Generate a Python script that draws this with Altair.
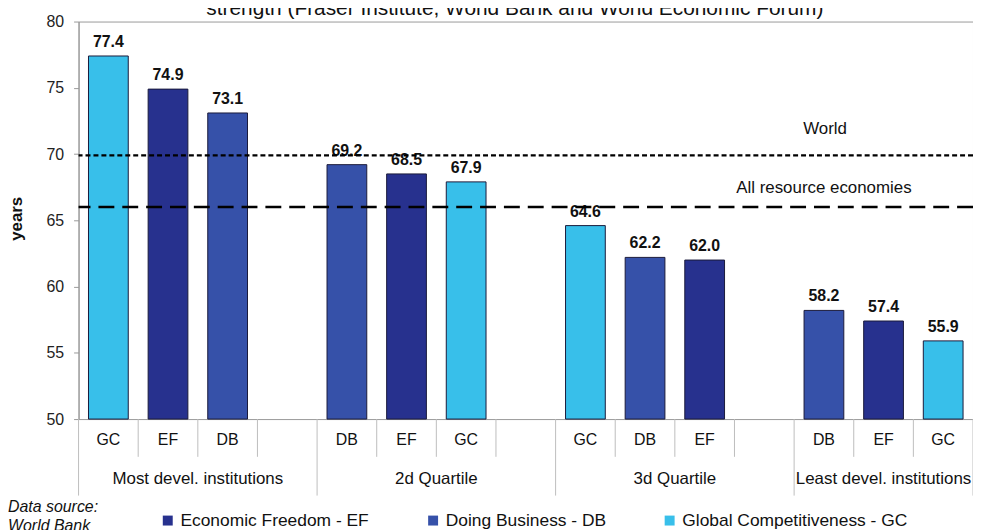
import altair as alt
import pandas as pd

# ---------------- data ----------------
title_text = "strength (Fraser Institute, World Bank and World Economic Forum)"
groups = ["Most devel. institutions", "2d Quartile", "3d Quartile", "Least devel. institutions"]
slots_per_group = [4, 4, 4, 3]
group_codes = [["GC", "EF", "DB"], ["DB", "EF", "GC"], ["GC", "DB", "EF"], ["DB", "EF", "GC"]]
group_values = [[77.4, 74.9, 73.1], [69.2, 68.5, 67.9], [64.6, 62.2, 62.0], [58.2, 57.4, 55.9]]
series_order = ["EF", "DB", "GC"]
series_names = ["Economic Freedom - EF", "Doing Business - DB", "Global Competitiveness - GC"]
series_colors = ["#27318E", "#3651A9", "#38BFEA"]
ref_names = ["World", "All resource economies"]
ref_values = [69.9, 66.0]
ref_label_slot = [12.52, 12.5]
y_ticks = [50, 55, 60, 65, 70, 75, 80]
source_text = "Data source:\nWorld Bank"

# ---------------- tables ----------------
name_of = dict(zip(series_order, series_names))
bar_rows, group_rows, sep_rows = [], [], []
slot = 0
for g, n, cs, vs in zip(groups, slots_per_group, group_codes, group_values):
    group_rows.append({"group": g, "xc": slot + n / 2})
    sep_rows.append({"x": slot, "kind": "long"})
    for i, (c, v) in enumerate(zip(cs, vs)):
        s = slot + i
        bar_rows.append({"code": c, "series": name_of[c], "value": v,
                         "base": y_ticks[0],
                         "x0": s + 1 / 6, "x1": s + 5 / 6, "xc": s + 0.5,
                         "label": f"{v:.1f}"})
    for i in range(1, n):
        sep_rows.append({"x": slot + i, "kind": "short"})
    slot += n
sep_rows.append({"x": slot, "kind": "long"})
total_slots = slot

bars_df = pd.DataFrame(bar_rows)
groups_df = pd.DataFrame(group_rows)
short_df = pd.DataFrame([r for r in sep_rows if r["kind"] == "short"])
long_df = pd.DataFrame([r for r in sep_rows if r["kind"] == "long"])
world_df = pd.DataFrame({"name": [ref_names[0]], "value": [ref_values[0]], "lx": [ref_label_slot[0]]})
res_df = pd.DataFrame({"name": [ref_names[1]], "value": [ref_values[1]], "lx": [ref_label_slot[1]]})

FONT = "Liberation Sans"
xscale = alt.Scale(domain=[0, total_slots], nice=False, zero=False)
yscale = alt.Scale(domain=[y_ticks[0], y_ticks[-1]], nice=False, zero=False)
yaxis = alt.Axis(values=y_ticks, labelFontSize=16, labelColor="#222",
                 tickSize=5, tickColor="#999", domainColor="#999",
                 labelPadding=10, grid=False, title="years",
                 titleFontSize=17, titleFontWeight="bold",
                 titleColor="#111", titleAngle=270, titleX=-62,
                 titleY=198, titleAlign="center", titleBaseline="middle")


def X(field):
    return alt.X(field, type="quantitative", scale=xscale, axis=None)


def Y(field):
    return alt.Y(field, type="quantitative", scale=yscale, axis=yaxis)


base = alt.Chart(bars_df)

bars = base.mark_bar(stroke="#1a1a3a", strokeWidth=1).encode(
    x=X("x0"),
    x2="x1:Q",
    y=Y("value"),
    y2="base:Q",
    color=alt.Color("series:N",
                    scale=alt.Scale(domain=series_names, range=series_colors),
                    legend=alt.Legend(orient="none", legendX=81, legendY=493,
                                      direction="horizontal", title=None,
                                      symbolType="square", symbolSize=100,
                                      symbolStrokeWidth=0, labelFontSize=17.5,
                                      labelColor="#111", columnPadding=55,
                                      labelOffset=4, labelLimit=0)),
)

value_labels = base.mark_text(fontSize=16, fontWeight="bold", color="#111",
                              baseline="alphabetic", dy=-9).encode(
    x=X("xc"), y=Y("value"), text="label:N")

world_rule = alt.Chart(world_df).mark_rule(
    color="black", strokeWidth=2.5, strokeDash=[5, 3]).encode(y=Y("value"))
res_rule = alt.Chart(res_df).mark_rule(
    color="black", strokeWidth=2.5, strokeDash=[16, 8]).encode(y=Y("value"))

world_lbl = alt.Chart(world_df).mark_text(
    fontSize=17, color="#111", baseline="middle", dy=-27).encode(
    x=X("lx"), y=Y("value"), text="name:N")
res_lbl = alt.Chart(res_df).mark_text(
    fontSize=17, color="#111", baseline="middle", dy=-19).encode(
    x=X("lx"), y=Y("value"), text="name:N")

short_seps = alt.Chart(short_df).mark_rule(color="#bdbdbd", strokeWidth=1).encode(
    x=X("x"), y=alt.value(400), y2=alt.value(438))
long_seps = alt.Chart(long_df).mark_rule(color="#bdbdbd", strokeWidth=1).encode(
    x=X("x"), y=alt.value(400), y2=alt.value(477))

cat_lbl = base.mark_text(fontSize=16, color="#111", baseline="middle").encode(
    x=X("xc"), y=alt.value(421), text="code:N")
grp_lbl = alt.Chart(groups_df).mark_text(fontSize=17, color="#111",
                                         baseline="middle").encode(
    x=X("xc"), y=alt.value(460), text="group:N")

title_mark = alt.Chart(pd.DataFrame({"t": [title_text]})).mark_text(
    fontSize=21, color="#111", baseline="alphabetic", align="center").encode(
    x=alt.value(439), y=alt.value(-7), text="t:N")

source_mark = alt.Chart(pd.DataFrame({"t": [source_text]})).mark_text(
    fontSize=16, fontStyle="italic", color="#111", align="left",
    baseline="top", lineBreak="\n", lineHeight=19).encode(
    x=alt.value(-71), y=alt.value(481), text="t:N")

chart = alt.layer(
    bars, short_seps, long_seps, value_labels, world_rule, res_rule,
    world_lbl, res_lbl, cat_lbl, grp_lbl, title_mark, source_mark,
).properties(
    width=900, height=400,
    padding={"left": 71, "top": 12, "right": 0, "bottom": 110},
    autosize=alt.AutoSizeParams(type="none"),
).configure(font=FONT).configure_view(stroke="#999", strokeWidth=1)

chart.save("out.html", embed_options={"renderer": "svg", "actions": False})
